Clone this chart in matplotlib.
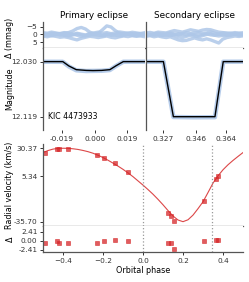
import numpy as np
import matplotlib
matplotlib.use("Agg")
import matplotlib.pyplot as plt

# ---- data ----
# primary eclipse model (phase, mag)
prim_phase = [-0.0300, -0.0185, -0.0150, -0.0107, -0.0050, -0.0010, 0.0040, 0.0088, 0.0125, 0.0166, 0.0292]
prim_model = [12.0300, 12.0300, 12.0370, 12.0430, 12.0442, 12.0445, 12.0442, 12.0430, 12.0365, 12.0300, 12.0300]
prim_obs = [12.0302, 12.0303, 12.0378, 12.0440, 12.0452, 12.0450, 12.0448, 12.0436, 12.0368, 12.0302, 12.0301]

# secondary eclipse model
sec_phase = [0.3167, 0.3270, 0.3329, 0.3450, 0.3575, 0.3624, 0.3741]
sec_model = [12.0300, 12.0300, 12.1190, 12.1190, 12.1190, 12.0300, 12.0300]
sec_obs = [12.0302, 12.0302, 12.1195, 12.1200, 12.1198, 12.0302, 12.0301]

# light-curve residuals (mmag), a few nights overplotted
prim_res = [
    [0.5, 0.0, 0.8, 0.2, -0.3, 0.6, 1.0, 0.3, -0.4, 0.2, 0.8, 0.5, 0.0, 0.4, 0.9, 0.3, -0.2, 0.5, 1.0, 0.4, 0.0, 0.6, 0.8, 0.2, 0.5],
    [-0.5, -0.2, -0.8, -0.3, -0.6, -0.8, -1.2, -2.2, -3.8, -4.5, -3.5, -1.5, -0.5, -0.8, -3.0, -5.5, -4.8, -2.5, -0.8, -0.4, -0.8, -0.5, -0.2, -0.6, -0.3],
    [1.0, 1.5, 0.8, 1.2, 1.8, 1.5, 2.0, 2.8, 3.5, 2.5, 1.8, 1.2, 1.5, 2.0, 1.5, 1.0, 1.8, 2.2, 1.5, 1.0, 1.4, 0.8, 1.2, 1.0, 1.5],
    [-1.2, -0.8, -1.5, -1.0, -0.5, -1.2, -0.8, -0.3, 0.5, 1.2, 0.8, -0.5, -1.0, -1.5, -0.8, -1.2, -0.5, -1.0, -1.6, -1.2, -0.8, -1.4, -1.0, -0.6, -1.2],
    [-0.3, 0.6, 0.2, -0.6, 0.4, -0.2, 0.5, 0.1, -0.8, -0.2, 0.3, -0.6, 0.2, -0.2, 0.5, -0.4, 0.6, 0.0, -0.5, 0.3, -0.3, 0.2, -0.5, 0.4, -0.1],
]
sec_res = [
    [0.3, -0.2, 0.5, 0.0, -0.4, 0.3, 0.8, 0.2, -0.5, 0.0, 0.4, -0.3, 0.2, 0.6, 0.0, -0.4, 0.3, 0.5, -0.2, 0.2, 0.6, 0.0, -0.3, 0.4, 0.1],
    [-1.0, -1.3, -0.8, -1.5, -1.2, -1.0, -1.8, -2.5, -2.0, -1.5, -2.2, -3.0, -2.5, -2.0, -2.8, -3.2, -3.0, -2.2, -1.5, -1.2, -1.0, -0.8, -1.2, -0.9, -1.1],
    [1.2, 0.8, 1.5, 1.0, 1.6, 2.0, 1.5, 2.5, 3.5, 4.0, 3.8, 3.0, 2.2, 3.0, 3.5, 2.8, 3.5, 4.5, 5.5, 3.0, 2.0, 1.5, 1.0, 1.3, 0.9],
    [0.0, 0.5, -0.5, 0.3, 0.8, 0.2, -0.3, 0.5, 1.5, 2.0, 1.2, 0.5, 1.0, 1.5, 0.8, 0.0, -0.5, 0.5, 1.0, 0.6, 0.2, 0.5, -0.2, 0.3, 0.0],
    [-0.5, 0.2, -0.3, -0.8, 0.1, -0.5, -1.0, -0.4, 0.3, -0.6, -1.2, -0.5, -0.8, -1.4, -0.6, -1.0, -1.6, -0.8, -0.3, -0.9, -0.4, -0.7, -0.2, -0.6, -0.3],
]
prim_res_phase = np.linspace(-0.030, 0.0292, 25)
sec_res_phase = np.linspace(0.3167, 0.3741, 25)

# radial velocities
rv_phase = [-0.490, -0.428, -0.418, -0.373, -0.232, -0.193, -0.140, -0.077, 0.127, 0.138, 0.155, 0.305, 0.365, 0.373]
rv = [25.9, 29.7, 29.5, 29.7, 24.3, 21.6, 16.9, 8.8, -28.1, -30.3, -35.1, -16.8, 3.0, 5.4]
rv_resid = [-0.65, -0.07, -0.5, -0.5, -0.5, -0.1, 0.1, -0.1, -0.5, -0.5, -2.1, 0.0, 0.2, 0.2]

# RV model curve sampled every 0.025 in phase
curve_phase = np.linspace(-0.5, 0.5, 41)
curve_rv = [26.5, 28.3, 29.6, 30.2, 30.37, 30.3, 29.9, 29.3, 28.4, 27.3,
            25.9, 24.1, 22.0, 19.6, 17.0, 14.3, 11.4, 8.2, 4.8, 1.0,
            -2.8, -6.8, -11.0, -15.6, -20.5, -25.7, -30.6, -34.2, -35.7, -34.0,
            -29.8, -24.0, -17.8, -9.5, -1.0, 5.5, 11.0, 15.5, 19.4, 23.0, 26.5]

eclipse_phases = [0.0, 0.346]

# ---- style ----
blue = "#aec7e8"
red = "#d62728"
spine_c = "#555555"
plt.rcParams["font.family"] = "DejaVu Sans"
plt.rcParams["xtick.labelsize"] = 5.3
plt.rcParams["ytick.labelsize"] = 5.3
plt.rcParams["axes.labelsize"] = 5.8
plt.rcParams["xtick.major.size"] = 2.5
plt.rcParams["ytick.major.size"] = 2.5
plt.rcParams["xtick.major.pad"] = 1.5
plt.rcParams["ytick.major.pad"] = 1.5
plt.rcParams["xtick.color"] = "#333333"
plt.rcParams["ytick.color"] = "#333333"

W, H = 249, 282
fig = plt.figure(figsize=(W / 100, H / 100), dpi=100)


def box(x0, y0, x1, y1):
    return [x0 / W, 1 - y1 / H, (x1 - x0) / W, (y1 - y0) / H]


def style(ax, bottom=True):
    for s in ["top", "right"]:
        ax.spines[s].set_visible(False)
    ax.spines["bottom"].set_visible(bottom)
    for s in ["left", "bottom"]:
        ax.spines[s].set_color(spine_c)
        ax.spines[s].set_linewidth(0.9)
    ax.tick_params(width=0.7)


ax_r1 = fig.add_axes(box(43, 22, 145, 48))
ax_r2 = fig.add_axes(box(146, 22, 243, 48))
ax_m1 = fig.add_axes(box(43, 48, 145, 130))
ax_m2 = fig.add_axes(box(146, 48, 243, 130))
ax_rv = fig.add_axes(box(43, 144, 243, 226))
ax_d = fig.add_axes(box(43, 226, 243, 252))

# top residual panels
for r in prim_res:
    ax_r1.plot(prim_res_phase, r, color=blue, lw=2.4, alpha=0.85)
for r in sec_res:
    ax_r2.plot(sec_res_phase, r, color=blue, lw=2.4, alpha=0.85)
for ax in (ax_r1, ax_r2):
    ax.set_ylim(8.7, -8.0)
    ax.set_xticks([])
    style(ax)
ax_r1.set_xlim(-0.030, 0.0292)
ax_r2.set_xlim(0.3167, 0.3741)
ax_r1.set_yticks([-5, 0, 5])
ax_r2.set_yticks([])
ax_r1.set_title("Primary eclipse", fontsize=6.4, pad=3)
ax_r2.set_title("Secondary eclipse", fontsize=6.4, pad=3)

# magnitude panels
ax_m1.plot(prim_phase, prim_obs, color=blue, lw=3.2, alpha=0.9)
ax_m1.plot(prim_phase, prim_model, color="black", lw=1.0)
ax_m2.plot(sec_phase, sec_obs, color=blue, lw=3.2, alpha=0.9)
ax_m2.plot(sec_phase, sec_model, color="black", lw=1.0)
for ax in (ax_m1, ax_m2):
    ax.set_ylim(12.1405, 12.008)
    style(ax, bottom=False)
ax_m1.set_xlim(-0.030, 0.0292)
ax_m2.set_xlim(0.3167, 0.3741)
ax_m1.set_yticks([12.030, 12.119])
ax_m1.set_yticklabels(["12.030", "12.119"])
ax_m2.set_yticks([])
ax_m1.set_xticks([-0.019, 0.0, 0.019])
ax_m1.set_xticklabels(["-0.019", "0.000", "0.019"])
ax_m2.set_xticks([0.327, 0.346, 0.364])
ax_m2.set_xticklabels(["0.327", "0.346", "0.364"])
ax_m1.text(0.05, 0.17, "KIC 4473933", transform=ax_m1.transAxes, fontsize=5.6,
           va="center", ha="left")

# radial velocity
pink = (0.84, 0.15, 0.16, 0.12)
ax_rv.plot(curve_phase, curve_rv, color=red, lw=0.8, alpha=0.85)
ax_rv.plot(rv_phase, rv, ls="none", marker="s", ms=3.0, mec=red, mfc=pink, mew=0.5, alpha=0.75)
ax_rv.set_xlim(-0.5, 0.5)
ax_rv.set_ylim(-39.6, 34.2)
ax_rv.set_yticks([-35.70, 5.34, 30.37])
ax_rv.set_yticklabels(["-35.70", "5.34", "30.37"])
ax_rv.set_xticks([])
style(ax_rv)

ax_d.plot(rv_phase, rv_resid, ls="none", marker="s", ms=3.0, mec=red, mfc=pink, mew=0.5, alpha=0.75)
ax_d.set_xlim(-0.5, 0.5)
ax_d.set_ylim(-2.98, 3.87)
ax_d.set_yticks([-2.41, 0.0, 2.41])
ax_d.set_yticklabels(["-2.41", "0.00", "2.41"])
ax_d.set_xticks([-0.4, -0.2, 0.0, 0.2, 0.4])
ax_d.set_xlabel("Orbital phase", labelpad=2)
style(ax_d)

for ax in (ax_rv, ax_d):
    for ph in eclipse_phases:
        ax.axvline(ph, color="#999999", lw=0.9, ls=":")

# y labels lined up
for ax, lab, yc in [(ax_r1, "Δ (mmag)", 38), (ax_m1, "Magnitude", 89),
                    (ax_rv, "Radial velocity (km/s)", 185), (ax_d, "Δ", 239)]:
    ax.set_ylabel(lab)
    ax.yaxis.set_label_coords(14.5 / W, 1 - yc / H, transform=fig.transFigure)

fig.savefig("out.png", dpi=100)
